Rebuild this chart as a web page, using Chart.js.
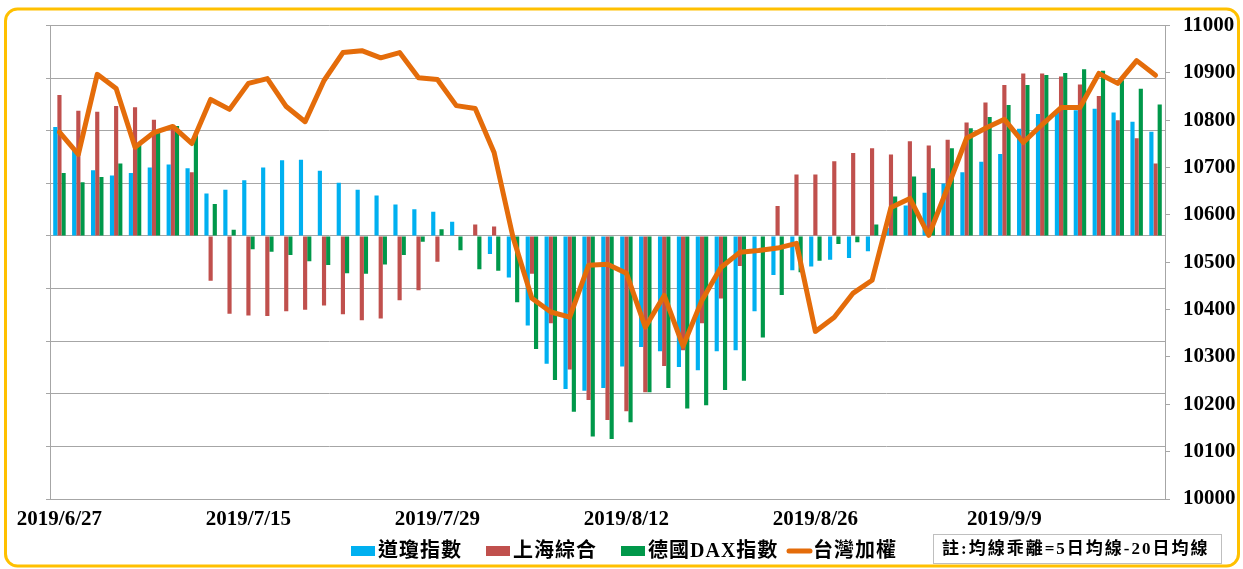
<!DOCTYPE html>
<html>
<head>
<meta charset="utf-8">
<title>均線乖離</title>
<script src="https://cdn.jsdelivr.net/npm/chart.js@4.4.0/dist/chart.umd.min.js"></script>
<style>
  html, body { margin: 0; padding: 0; background: #fff; }
  canvas { display: block; }
</style>
</head>
<body>
<canvas id="chart" width="1243" height="569"></canvas>
<script>
// trading days, only every 10th one is printed on the axis
const labels = [
  '2019/6/27', '2019/6/28', '2019/7/1', '2019/7/2', '2019/7/3', '2019/7/8', '2019/7/9', '2019/7/10', '2019/7/11', '2019/7/12',
  '2019/7/15', '2019/7/16', '2019/7/17', '2019/7/18', '2019/7/19', '2019/7/22', '2019/7/23', '2019/7/24', '2019/7/25', '2019/7/26',
  '2019/7/29', '2019/7/30', '2019/7/31', '2019/8/1', '2019/8/2', '2019/8/5', '2019/8/6', '2019/8/7', '2019/8/8', '2019/8/9',
  '2019/8/12', '2019/8/13', '2019/8/14', '2019/8/15', '2019/8/16', '2019/8/19', '2019/8/20', '2019/8/21', '2019/8/22', '2019/8/23',
  '2019/8/26', '2019/8/27', '2019/8/28', '2019/8/29', '2019/8/30', '2019/9/2', '2019/9/3', '2019/9/4', '2019/9/5', '2019/9/6',
  '2019/9/9', '2019/9/10', '2019/9/11', '2019/9/12', '2019/9/16', '2019/9/17', '2019/9/18', '2019/9/19', '2019/9/20'
];

// 均線乖離 (5日均線-20日均線), left axis
const dowJones = [
  207, 163, 125, 115, 120, 130, 136, 129, 81, 88,
  106, 130, 144, 145, 124, 101, 88, 77, 60, 51,
  46, 27, 0, -34, -79, -170, -243, -291, -294, -289,
  -248, -211, -219, -249, -255, -219, -217, -143, -74, -65,
  -58, -45, -42, -29, 15, 58, 82, 100, 121, 141,
  156, 204, 232, 236, 239, 242, 235, 217, 198
];
const shanghai = [
  268, 238, 236, 247, 245, 221, 205, 121, -85, -148,
  -151, -152, -143, -140, -132, -149, -160, -157, -122, -103,
  -49, 2, 22, 18, 0, -72, -166, -254, -312, -350,
  -333, -297, -247, -217, -166, -119, -57, 1, 57, 117,
  117, 142, 158, 167, 155, 180, 172, 183, 216, 254,
  287, 309, 309, 303, 288, 266, 220, 186, 138
];
const dax = [
  120, 102, 112, 138, 177, 198, 209, 195, 61, 12,
  -25, -30, -36, -48, -55, -71, -72, -54, -36, -11,
  13, -27, -63, -66, -126, -215, -274, -334, -381, -386,
  -354, -297, -289, -328, -322, -293, -275, -193, -112, -69,
  -47, -15, -12, 22, 75, 113, 129, 167, 205, 226,
  249, 287, 306, 310, 317, 314, 296, 280, 250
];

// 台灣加權 close, right axis
const taiex = [
  10775, 10728, 10897, 10867, 10743, 10774, 10787, 10751, 10844, 10823,
  10878, 10888, 10829, 10797, 10884, 10943, 10947, 10932, 10943, 10890,
  10886, 10831, 10825, 10732, 10553, 10424, 10395, 10384, 10494, 10496,
  10477, 10363, 10430, 10323, 10420, 10489, 10521, 10525, 10530, 10540,
  10354, 10384, 10435, 10462, 10616, 10635, 10557, 10658, 10762, 10783,
  10802, 10753, 10791, 10827, 10827, 10899, 10878, 10926, 10895
];

const seriesNames = ['道瓊指數', '上海綜合', '德國DAX指數', '台灣加權'];
const noteText = '註:均線乖離=5日均線-20日均線';

const colors = {
  blue: '#00B0F0',
  red: '#C0504D',
  green: '#00984A',
  orange: '#E46C0A',
  grid: '#A6A6A6',
  frame: '#FFC000'
};

const axisFont = { family: '"Liberation Serif", serif', size: 21, weight: 'bold' };
const legendFont = 'bold 20px "Liberation Serif", "Noto Sans CJK TC", sans-serif';
const noteFont = 'bold 17px "Liberation Serif", "Noto Sans CJK TC", sans-serif';
const legendX = [351, 486, 621, 787];

// frame, legend and note box are drawn straight onto the canvas
const decorPlugin = {
  id: 'decor',
  beforeDraw(chart) {
    const ctx = chart.ctx;
    ctx.save();
    ctx.fillStyle = '#fff';
    ctx.fillRect(0, 0, chart.width, chart.height);
    ctx.strokeStyle = colors.frame;
    ctx.lineWidth = 3;
    ctx.beginPath();
    ctx.roundRect(5.5, 9, 1233, 557, 12);
    ctx.stroke();
    ctx.restore();
  },
  afterDraw(chart) {
    const ctx = chart.ctx;
    const y = 551;
    const swatches = [colors.blue, colors.red, colors.green, colors.orange];
    ctx.save();
    ctx.font = legendFont;
    ctx.letterSpacing = '1px';
    ctx.textBaseline = 'middle';
    seriesNames.forEach((name, i) => {
      let x = legendX[i];
      if (i < 3) {
        ctx.fillStyle = swatches[i];
        ctx.fillRect(x, y - 5, 24, 10);
        x += 27;
      } else {
        ctx.strokeStyle = swatches[i];
        ctx.lineWidth = 5;
        ctx.lineCap = 'round';
        ctx.beginPath();
        ctx.moveTo(x + 2, y);
        ctx.lineTo(x + 23, y);
        ctx.stroke();
        x += 26;
      }
      ctx.fillStyle = '#000';
      ctx.fillText(name, x, y + 1);
    });

    // note box
    ctx.strokeStyle = '#BFBFBF';
    ctx.lineWidth = 1;
    ctx.strokeRect(933.5, 534.5, 288, 29);
    ctx.font = noteFont;
    ctx.letterSpacing = '2px';
    ctx.fillStyle = '#000';
    ctx.fillText(noteText, 942, 550);
    ctx.restore();
  }
};

const barDefaults = {
  type: 'bar',
  yAxisID: 'y',
  order: 1,
  borderWidth: 0,
  categoryPercentage: 0.66,
  barPercentage: 1.0
};

new Chart(document.getElementById('chart'), {
  data: {
    labels: labels,
    datasets: [
      Object.assign({ label: seriesNames[0], data: dowJones, backgroundColor: colors.blue }, barDefaults),
      Object.assign({ label: seriesNames[1], data: shanghai, backgroundColor: colors.red }, barDefaults),
      Object.assign({ label: seriesNames[2], data: dax, backgroundColor: colors.green }, barDefaults),
      {
        type: 'line',
        label: seriesNames[3],
        data: taiex,
        yAxisID: 'y1',
        order: 0,
        borderColor: colors.orange,
        backgroundColor: colors.orange,
        borderWidth: 5,
        borderJoinStyle: 'round',
        borderCapStyle: 'round',
        pointRadius: 0,
        tension: 0,
        fill: false
      }
    ]
  },
  options: {
    responsive: false,
    animation: false,
    events: [],
    layout: { padding: { left: 5, top: 25, right: 0, bottom: 0 } },
    plugins: {
      legend: { display: false },
      tooltip: { enabled: false }
    },
    scales: {
      x: {
        grid: { display: false, drawTicks: false },
        border: { display: true, color: colors.grid },
        ticks: {
          autoSkip: false,
          maxRotation: 0,
          padding: 8,
          color: '#000',
          font: axisFont,
          callback: function (value, index) {
            return index % 10 === 0 ? this.getLabelForValue(value) : '';
          }
        },
        afterFit: (scale) => { scale.height = 70; }
      },
      y: {
        position: 'left',
        min: -500,
        max: 400,
        ticks: { stepSize: 100, display: false },
        grid: { color: colors.grid, tickLength: 4 },
        border: { color: colors.grid },
        afterFit: (scale) => { scale.width = 45; }
      },
      y1: {
        position: 'right',
        min: 10000,
        max: 11000,
        ticks: {
          stepSize: 100,
          padding: 13,
          color: '#000',
          font: axisFont,
          callback: (value) => String(value)
        },
        grid: { drawOnChartArea: false, tickLength: 5, color: colors.grid },
        border: { color: colors.grid },
        afterFit: (scale) => { scale.width = 78; }
      }
    }
  },
  plugins: [decorPlugin]
});
</script>
</body>
</html>
